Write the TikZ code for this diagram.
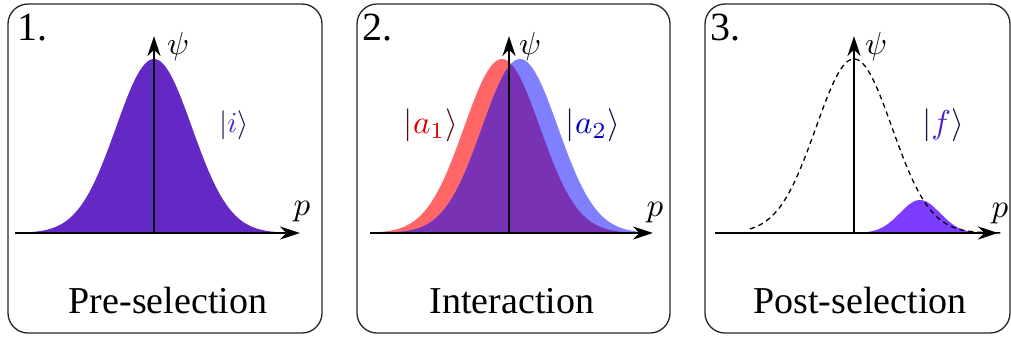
\documentclass[tikz,border=0pt]{standalone}
\usepackage{fontspec}
\setmainfont{Liberation Serif}
\usetikzlibrary{arrows.meta}
\definecolor{purpA}{HTML}{6429C4}
\definecolor{redB}{HTML}{FF6666}
\definecolor{blueB}{HTML}{8080FF}
\definecolor{purpB}{HTML}{7A32B4}
\definecolor{violC}{HTML}{7D3DFF}
\definecolor{boxline}{HTML}{262626}
\definecolor{kiB}{HTML}{1E1040}
\definecolor{kiC}{HTML}{5020D0}
\definecolor{kaB}{HTML}{501010}
\definecolor{kaC}{HTML}{E00000}
\definecolor{kbB}{HTML}{101050}
\definecolor{kbC}{HTML}{0000C8}
\newcommand{\bigmath}[2]{\scalebox{#1}{$#2$}}
\begin{document}
\begin{tikzpicture}[x=1pt,y=-1pt,
  panel/.style={draw=boxline, line width=1.3pt, rounded corners=20pt},
  axisline/.style={line width=2.6pt, -{Stealth[length=20pt,width=13pt]}},
  num/.style={font=\fontsize{40}{40}\selectfont, anchor=base west, inner sep=0pt},
  captext/.style={font=\fontsize{38}{38}\selectfont, anchor=base, inner sep=0pt},
  axlab/.style={inner sep=0pt},
  ket/.style={inner sep=0pt},
  dashcurve/.style={line width=1.3pt, dash pattern=on 5pt off 4pt}]
\useasboundingbox (0,0) rectangle (1011,338);

% ---------- panel boxes
\draw[panel] (8,4) rectangle (322,333);
\draw[panel] (357,4) rectangle (670,333);
\draw[panel] (705,4) rectangle (1010,333);

% ---------- panel 1
\fill[purpA] plot[domain=20:295,samples=140] (\x,{233-174*exp(-0.5*((\x-154)/38)^2)}) -- cycle;
\coordinate (xs1) at (15,233);
\coordinate (xe1) at (300,233);
\coordinate (o1) at (154,233);
\coordinate (ye1) at (154,36);
\draw[axisline] (xs1) -- (xe1);
\draw[axisline] (o1) -- (ye1);
\node[num] (n1) at (17,40) {1.};
\node[axlab] (psi1) at (178,46) {\bigmath{3.2}{\psi}};
\node[axlab] (p1) at (302,212) {\bigmath{3.3}{p}};
\node[ket] (ki) at (234,125) {\bigmath{2.9}{\color{kiB}|{\color{kiC}i}\rangle}};
\node[captext] (c1) at (168,313) {Pre-selection};

% ---------- panel 2
\fill[redB] plot[domain=372:650,samples=140] (\x,{233-174*exp(-0.5*((\x-502)/38)^2)}) -- cycle;
\fill[blueB] plot[domain=372:650,samples=140] (\x,{233-174*exp(-0.5*((\x-520)/38)^2)}) -- cycle;
\fill[purpB] plot[domain=372:650,samples=160] (\x,{233-174*min(exp(-0.5*((\x-502)/38)^2),exp(-0.5*((\x-520)/38)^2))}) -- cycle;
\coordinate (xs2) at (370,233);
\coordinate (xe2) at (653,233);
\coordinate (o2) at (509,233);
\coordinate (ye2) at (509,36);
\draw[axisline] (xs2) -- (xe2);
\draw[axisline] (o2) -- (ye2);
\node[num] (n2) at (362,40) {2.};
\node[axlab] (psi2) at (530,46) {\bigmath{3.2}{\psi}};
\node[axlab] (p2) at (655,213) {\bigmath{3.3}{p}};
\node[ket] (ka1) at (431,125) {\bigmath{3.3}{\color{kaB}|{\color{kaC}a_1}\rangle}};
\node[ket] (ka2) at (593,125) {\bigmath{3.3}{\color{kbB}|{\color{kbC}a_2}\rangle}};
\node[captext] (c2) at (512,313) {Interaction};

% ---------- panel 3
\fill[violC] plot[domain=860:985,samples=100] (\x,{233-33*exp(-0.5*((\x-920)/20)^2)}) -- cycle;
\coordinate (xs3) at (715,233);
\coordinate (xe3) at (998,233);
\coordinate (o3) at (854,233);
\coordinate (ye3) at (854,36);
\draw[axisline] (xs3) -- (xe3);
\draw[axisline] (o3) -- (ye3);
\draw[dashcurve] plot[domain=750:1004,samples=140] (\x,{233-174*exp(-0.5*((\x-854)/38)^2)});
\node[num] (n3) at (710,40) {3.};
\node[axlab] (psi3) at (876,46) {\bigmath{3.2}{\psi}};
\node[axlab] (p3) at (1000,214) {\bigmath{3.3}{p}};
\node[ket] (kf) at (943,125) {\bigmath{3.3}{\color{kiB}|{\color{kiC}f}\rangle}};
\node[captext] (c3) at (860,313) {Post-selection};
\end{tikzpicture}
\end{document}
